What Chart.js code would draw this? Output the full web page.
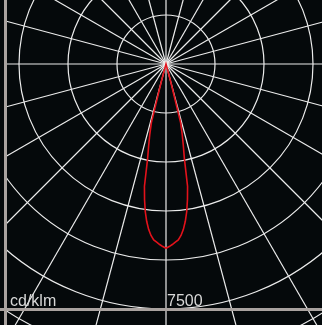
<!DOCTYPE html>
<html>
<head>
<meta charset="utf-8">
<script src="https://cdn.jsdelivr.net/npm/chart.js@4.4.1/dist/chart.umd.min.js"></script>
<style>
  html, body { margin: 0; padding: 0; width: 322px; height: 325px; overflow: hidden; background: #05090b; }
  #plot { position: absolute; left: 7px; top: 0; width: 315px; height: 325px; overflow: hidden; }
  #plot canvas { position: absolute; left: -184px; top: -279px; }
  .frame-v { position: absolute; left: 4px; top: 0; width: 3px; height: 325px; background: #a9a29f; }
  .frame-h { position: absolute; left: 0; top: 308px; width: 322px; height: 3px; background: #a9a29f; }
</style>
</head>
<body>
<div id="plot"><canvas id="polar" width="686" height="686"></canvas></div>
<div class="frame-h"></div>
<div class="frame-v"></div>
<script>
// Luminous intensity distribution (cd/klm), gamma measured from nadir.
const beamAngles    = [0, 1, 2, 3, 4, 5, 6, 7, 8, 9, 10, 11, 12, 13, 14, 15, 16];
const beamIntensity = [5640, 5590, 5530, 5460, 5400, 5270, 5090, 4850, 4560, 4200, 3800, 2950, 2550, 2200, 1850, 500, 0];

// Polar scale: rings every 1500 cd/klm, radial lines every 15 degrees.
const ringStep = 1500;
const ringMax = 10500;
const ringLabelValue = 7500;
const unitLabel = 'cd/klm';
const angleStepDeg = 1;
const radialEvery = 15;

// One category per degree around the full circle.
const gammaLabels = Array.from({ length: 360 / angleStepDeg }, (_, i) => (i * angleStepDeg) + '°');

// Symmetric profile (C0 / C180 planes) laid out over the full circle.
const fullProfile = gammaLabels.map(() => 0);
beamAngles.forEach((a, k) => {
  fullProfile[a / angleStepDeg] = beamIntensity[k];
  fullProfile[((360 - a) % 360) / angleStepDeg] = beamIntensity[k];
});

const labelPlugin = {
  id: 'photometricLabels',
  afterDraw(chart) {
    const r = chart.scales.r;
    const ctx = chart.ctx;
    const ringY = r.yCenter + r.getDistanceFromCenterForValue(ringLabelValue);
    ctx.save();
    ctx.font = '16px "Liberation Sans", Arial, sans-serif';
    ctx.fillStyle = '#d8d8d8';
    ctx.textAlign = 'left';
    ctx.textBaseline = 'alphabetic';
    ctx.fillText(String(ringLabelValue), r.xCenter + 1, ringY - 3);
    ctx.fillText(unitLabel, r.xCenter - 156, ringY - 3);
    ctx.restore();
  }
};

new Chart(document.getElementById('polar'), {
  type: 'radar',
  data: {
    labels: gammaLabels,
    datasets: [{
      data: fullProfile,
      borderColor: '#e3121b',
      borderWidth: 1.6,
      pointRadius: 0,
      pointHoverRadius: 0,
      fill: false,
      tension: 0
    }]
  },
  options: {
    responsive: false,
    animation: false,
    devicePixelRatio: 1,
    layout: { padding: 0 },
    plugins: { legend: { display: false }, tooltip: { enabled: false } },
    scales: {
      r: {
        min: 0,
        max: ringMax,
        startAngle: 180,
        ticks: { display: false, stepSize: ringStep },
        pointLabels: { display: false },
        grid: { circular: true, color: '#ececec', lineWidth: 1.2 },
        angleLines: {
          display: true,
          color: '#ececec',
          lineWidth: (c) => (c.index % radialEvery === 0 ? 1.2 : 0)
        }
      }
    }
  },
  plugins: [labelPlugin]
});
</script>
</body>
</html>
